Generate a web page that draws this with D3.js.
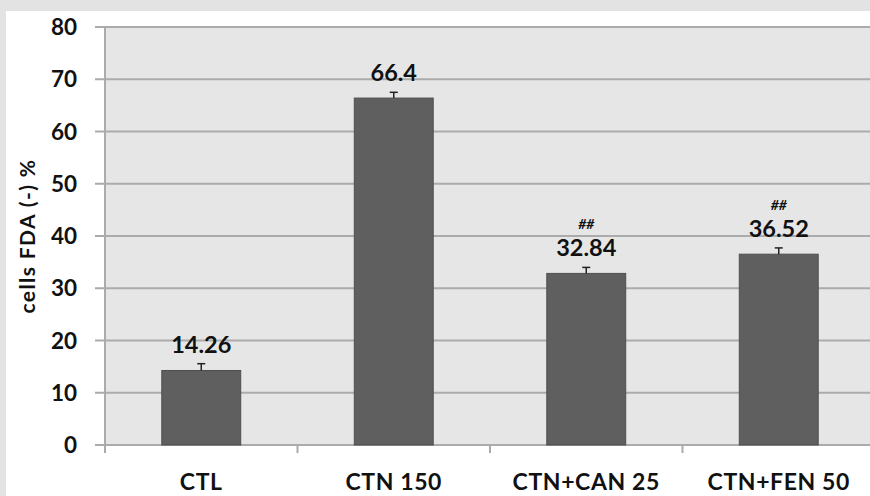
<!DOCTYPE html>
<html>
<head>
<meta charset="utf-8">
<script src="https://cdn.jsdelivr.net/npm/d3@7"></script>
<style>
  html, body { margin: 0; padding: 0; background: #e3e3e3; }
  svg { display: block; }
  text { font-family: Lato, "Open Sans", sans-serif; font-weight: bold; fill: #111; }
</style>
</head>
<body>
<svg id="chart" width="870" height="496"></svg>
<script>
// Percentage of FDA-negative cells per treatment group
const categories = ["CTL", "CTN 150", "CTN+CAN 25", "CTN+FEN 50"];
const values = [14.26, 66.4, 32.84, 36.52];
const errors = [1.3, 1.1, 1.15, 1.2];
const marks = ["", "", "##", "##"];
const yTicks = [0, 10, 20, 30, 40, 50, 60, 70, 80];

const svg = d3.select("#chart");
const W = 870, H = 496;

// white card on the grey page
svg.append("rect").attr("x", 6).attr("y", 11).attr("width", W - 6).attr("height", H - 11).attr("fill", "#ffffff");

const plotL = 105, plotR = 875, plotT = 27, plotB = 445;

const x = d3.scaleBand().domain(categories).range([plotL, plotR]).paddingInner(0.59).paddingOuter(0.295);
const xb = d3.scaleBand().domain(categories).range([plotL, plotR]);
const y = d3.scaleLinear().domain([0, 80]).range([plotB, plotT]);

// plot background
svg.append("rect").attr("x", plotL).attr("y", plotT).attr("width", plotR - plotL).attr("height", plotB - plotT).attr("fill", "#e6e6e6");

// horizontal gridlines with ticks extending left of the axis
svg.append("g").selectAll("line").data(yTicks).join("line")
  .attr("x1", plotL - 10).attr("x2", plotR)
  .attr("y1", d => y(d)).attr("y2", d => y(d))
  .attr("stroke", "#ababab").attr("stroke-width", 2);

// y axis line
svg.append("line").attr("x1", plotL).attr("x2", plotL).attr("y1", plotT).attr("y2", plotB + 8)
  .attr("stroke", "#ababab").attr("stroke-width", 2);

// category ticks under the x axis
svg.append("g").selectAll("line").data(categories.slice(1)).join("line")
  .attr("x1", d => xb(d)).attr("x2", d => xb(d))
  .attr("y1", plotB).attr("y2", plotB + 8)
  .attr("stroke", "#ababab").attr("stroke-width", 2);

// y tick labels
svg.append("g").selectAll("text").data(yTicks).join("text")
  .attr("x", 77).attr("y", d => y(d)).attr("dy", "0.36em")
  .attr("text-anchor", "end").attr("font-size", 22.5)
  .text(d => d);

// bars
svg.append("g").selectAll("rect").data(values).join("rect")
  .attr("x", (d, i) => x(categories[i]))
  .attr("y", d => y(d))
  .attr("width", x.bandwidth())
  .attr("height", d => y(0) - y(d))
  .attr("fill", "#5f5f5f")
  .attr("stroke", "#4f4f4f").attr("stroke-width", 1);

// error bars (upper only)
const eg = svg.append("g").attr("stroke", "#222").attr("stroke-width", 1.5);
values.forEach((v, i) => {
  const cx = x(categories[i]) + x.bandwidth() / 2;
  eg.append("line").attr("x1", cx).attr("x2", cx).attr("y1", y(v)).attr("y2", y(v + errors[i]));
  eg.append("line").attr("x1", cx - 4).attr("x2", cx + 4).attr("y1", y(v + errors[i])).attr("y2", y(v + errors[i]));
});

// value labels
svg.append("g").selectAll("text").data(values).join("text")
  .attr("x", (d, i) => x(categories[i]) + x.bandwidth() / 2)
  .attr("y", d => y(d) - 17)
  .attr("text-anchor", "middle").attr("font-size", 23.5)
  .text(d => d);

// significance marks
svg.append("g").selectAll("text").data(marks).join("text")
  .attr("x", (d, i) => x(categories[i]) + x.bandwidth() / 2)
  .attr("y", (d, i) => y(values[i]) - 44)
  .attr("text-anchor", "middle").attr("font-size", 14).attr("font-style", "italic")
  .text(d => d);

// x labels
svg.append("g").selectAll("text").data(categories).join("text")
  .attr("x", d => xb(d) + xb.bandwidth() / 2)
  .attr("y", 490)
  .attr("text-anchor", "middle").attr("font-size", 23).attr("letter-spacing", 0.6)
  .text(d => d);

// y axis title
svg.append("text")
  .attr("transform", `translate(35, ${(plotT + plotB) / 2}) rotate(-90)`)
  .attr("text-anchor", "middle").attr("font-size", 21).attr("letter-spacing", 1.4)
  .text("cells FDA (-) %");
</script>
</body>
</html>
